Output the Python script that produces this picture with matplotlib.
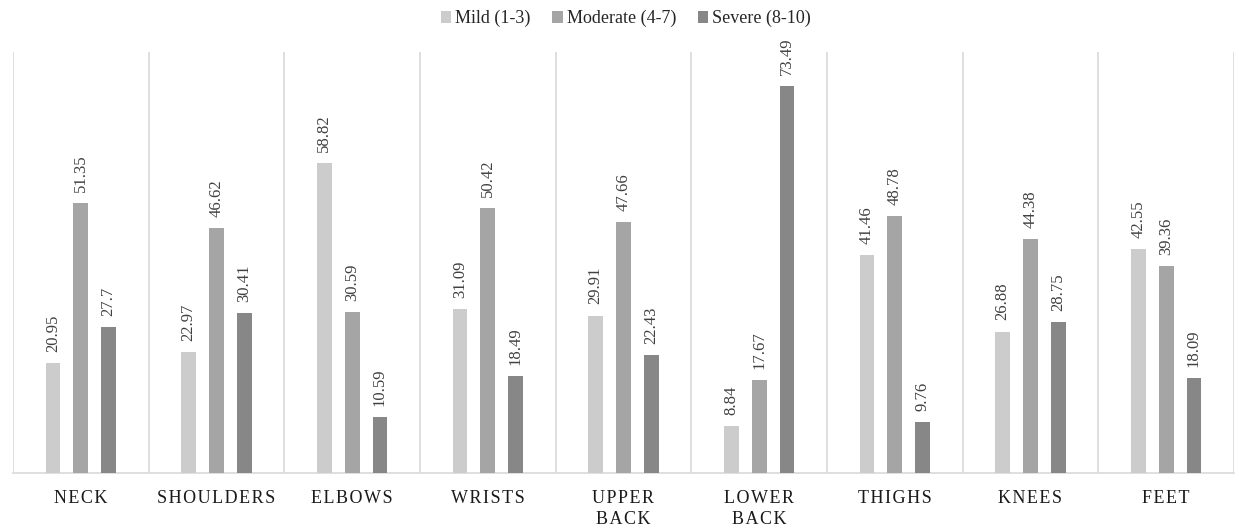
import matplotlib
matplotlib.use("Agg")
import matplotlib.pyplot as plt
import numpy as np

categories = ["NECK", "SHOULDERS", "ELBOWS", "WRISTS", "UPPER\nBACK",
              "LOWER\nBACK", "THIGHS", "KNEES", "FEET"]
series_names = ["Mild (1-3)", "Moderate (4-7)", "Severe (8-10)"]
mild = [20.95, 22.97, 58.82, 31.09, 29.91, 8.84, 41.46, 26.88, 42.55]
moderate = [51.35, 46.62, 30.59, 50.42, 47.66, 17.67, 48.78, 44.38, 39.36]
severe = [27.7, 30.41, 10.59, 18.49, 22.43, 73.49, 9.76, 28.75, 18.09]
colors = ["#cccccc", "#a5a5a5", "#878787"]

plt.rcParams['font.family'] = ['Liberation Serif', 'DejaVu Serif']

fig = plt.figure(figsize=(12.39, 5.29), dpi=100)
ax = fig.add_axes([13/1239, 56/529, (1234-13)/1239, (473-52)/529])

x = np.arange(len(categories))
offsets = [-0.205, 0.0, 0.205]
width = 0.11
for vals, off, col, name in zip([mild, moderate, severe], offsets, colors, series_names):
    bars = ax.bar(x + off, vals, width=width, color=col, label=name, zorder=3)
    for b, v in zip(bars, vals):
        ax.annotate(f"{v:g}", (b.get_x() + b.get_width() / 2, b.get_height()),
                    xytext=(0, 8), textcoords="offset points", rotation=90,
                    ha="center", va="bottom", fontsize=12, color="#404040")

ax.set_xlim(-0.5, len(categories) - 0.5)
ax.set_ylim(0, 80)
for k in range(len(categories) + 1):
    ax.axvline(k - 0.5, color="#d9d9d9", lw=1.2, zorder=1)
for s in ["top", "right", "left"]:
    ax.spines[s].set_visible(False)
ax.spines["bottom"].set_color("#d9d9d9")
ax.spines["bottom"].set_linewidth(1.2)
ax.set_yticks([])

def spaced(s):
    return "\n".join("\u200a".join(list(line)) for line in s.split("\n"))

ax.set_xticks(x)
ax.set_xticklabels([spaced(c) for c in categories], fontsize=13, color="#1a1a1a",
                   linespacing=1.35)
ax.tick_params(axis="x", length=0, pad=12)

leg = fig.legend(loc="upper center", bbox_to_anchor=(0.505, 1.012), ncol=3, frameon=False,
                 fontsize=13, handlelength=0.6, handleheight=0.6, handletextpad=0.2,
                 columnspacing=1.2)
for t in leg.get_texts():
    t.set_color("#262626")

fig.savefig("out.png", dpi=100)
